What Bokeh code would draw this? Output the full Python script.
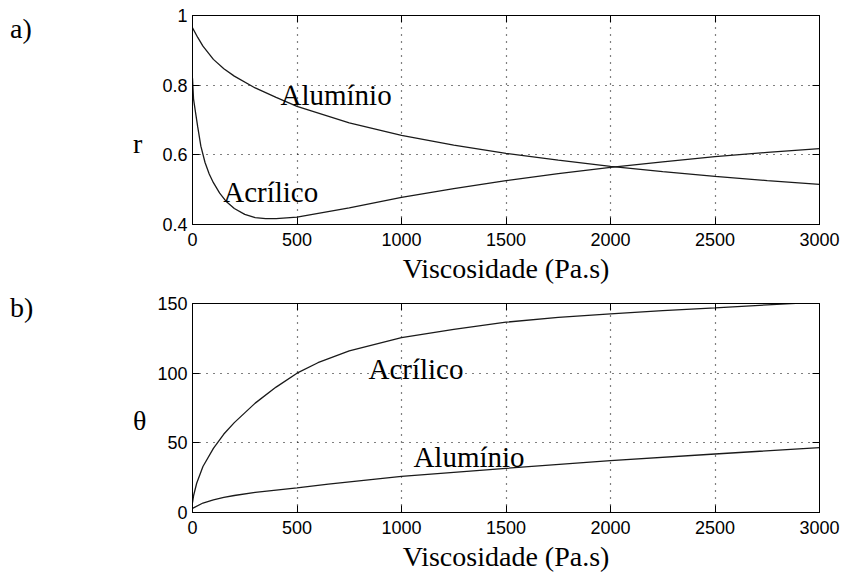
from bokeh.plotting import figure
from bokeh.layouts import column, row
from bokeh.models import (Label, LinearAxis, FixedTicker, Range1d, CustomJSTickFormatter, Grid, Div)
from bokeh.embed import file_html
from bokeh.resources import INLINE

# ---------------- data ----------------
x_ticks = [0, 500, 1000, 1500, 2000, 2500, 3000]
r_ticks = [0.4, 0.6, 0.8, 1.0]
r_tick_labels = ["0.4", "0.6", "0.8", "1"]
t_ticks = [0, 50, 100, 150]

r_alu_x = [0, 25, 50, 100, 150, 200, 300, 400, 500, 750, 1000, 1250, 1500, 1750, 2000, 2250, 2500, 2750, 3000]
r_alu_y = [0.965, 0.937, 0.912, 0.874, 0.847, 0.826, 0.792, 0.765, 0.739, 0.692, 0.656, 0.628, 0.604, 0.585, 0.567, 0.552, 0.538, 0.526, 0.515]

r_acr_x = [0, 5, 15, 25, 40, 60, 80, 100, 130, 160, 200, 250, 300, 350, 400, 500, 750, 1000, 1250, 1500, 1750, 2000, 2250, 2500, 2750, 3000]
r_acr_y = [0.82, 0.76, 0.72, 0.68, 0.625, 0.578, 0.545, 0.52, 0.49, 0.467, 0.446, 0.429, 0.42, 0.417, 0.417, 0.421, 0.448, 0.478, 0.503, 0.526, 0.546, 0.564, 0.58, 0.595, 0.607, 0.618]

t_acr_x = [0, 5, 20, 50, 100, 150, 200, 250, 300, 400, 500, 600, 750, 1000, 1250, 1500, 1750, 2000, 2250, 2500, 2750, 3000]
t_acr_y = [7, 12, 21, 33, 46, 56.3, 64.5, 71.5, 78.5, 90, 100, 107.5, 116, 125.5, 131.5, 136.6, 140, 142.6, 144.9, 146.9, 149, 151]

t_alu_x = [0, 50, 100, 150, 200, 300, 500, 650, 1000, 1500, 2000, 2500, 3000]
t_alu_y = [3, 6.8, 9, 10.8, 12.2, 14.5, 17.6, 20.3, 26, 31.7, 37.2, 42, 46.6]

xlabel = "Viscosidade (Pa.s)"

SERIF = "'Liberation Serif'"
SANS = "'Liberation Sans'"
LINE = "#1a1a1a"


def side_div(tag, tag_top, ylab, ylab_top, h):
    span = ("<span style=\"position:absolute;left:{l}px;top:{t}px;font-size:28px;"
            "line-height:28px;white-space:nowrap;\">{s}</span>")
    html = ("<div style=\"position:relative;width:150px;height:{h}px;"
            "font-family:'Liberation Serif';color:black;\">".format(h=h)
            + span.format(l=10, t=tag_top, s=tag)
            + span.format(l=133, t=ylab_top, s=ylab)
            + "</div>")
    return Div(text=html, width=150, height=h, margin=0)


def make_panel(yr, yticks, ylabels, top_border):
    p = figure(frame_width=627, frame_height=209,
               x_range=Range1d(0, 3000), y_range=Range1d(*yr),
               output_backend="svg", toolbar_location=None,
               min_border_left=42, min_border_right=23,
               min_border_top=top_border, min_border_bottom=40,
               x_axis_type=None, y_axis_type=None, margin=0)
    p.background_fill_color = "white"
    p.border_fill_color = "white"
    p.outline_line_color = "black"
    p.outline_line_width = 1

    xb = LinearAxis(ticker=FixedTicker(ticks=x_ticks))
    yl = LinearAxis(ticker=FixedTicker(ticks=yticks))
    yl.major_label_overrides = {t: s for t, s in zip(yticks, ylabels)}
    xt = LinearAxis(ticker=FixedTicker(ticks=x_ticks),
                    formatter=CustomJSTickFormatter(code="return ''"))
    yrr = LinearAxis(ticker=FixedTicker(ticks=yticks),
                     formatter=CustomJSTickFormatter(code="return ''"))
    for ax in (xb, yl, xt, yrr):
        ax.axis_line_color = "black"
        ax.major_tick_line_color = "black"
        ax.major_tick_in = 7
        ax.major_tick_out = 0
        ax.minor_tick_line_color = None
        ax.major_label_text_font = SANS
        ax.major_label_text_font_size = "18px"
        ax.major_label_text_color = "black"
    for ax in (xt, yrr):
        ax.major_label_standoff = 0
    xb.major_label_standoff = 8
    yl.major_label_standoff = 5
    xb.axis_label = xlabel
    xb.axis_label_text_font = SERIF
    xb.axis_label_text_font_size = "28px"
    xb.axis_label_text_font_style = "normal"
    xb.axis_label_text_color = "black"
    xb.axis_label_standoff = 4

    p.add_layout(xb, "below")
    p.add_layout(yl, "left")
    p.add_layout(xt, "above")
    p.add_layout(yrr, "right")

    gx = Grid(dimension=0, ticker=FixedTicker(ticks=x_ticks[1:-1]),
              grid_line_color="black", grid_line_dash="1 6", grid_line_width=1.2)
    gy = Grid(dimension=1, ticker=FixedTicker(ticks=yticks[1:-1]),
              grid_line_color="black", grid_line_dash="1 6", grid_line_width=1.2)
    p.add_layout(gx)
    p.add_layout(gy)
    return p


def curve_label(p, x, y, text):
    p.add_layout(Label(x=x, y=y, text=text, text_font=SERIF,
                       text_font_size="29px", text_color="black",
                       text_baseline="alphabetic"))


p1 = make_panel((0.4, 1.0), r_ticks, r_tick_labels, 15)
p1.line(r_alu_x, r_alu_y, line_color=LINE, line_width=1.3)
p1.line(r_acr_x, r_acr_y, line_color=LINE, line_width=1.3)
curve_label(p1, 421, 0.772, "Alumínio")
curve_label(p1, 147, 0.493, "Acrílico")

p2 = make_panel((0, 150), t_ticks, [str(t) for t in t_ticks], 17)
p2.line(t_acr_x, t_acr_y, line_color=LINE, line_width=1.3)
p2.line(t_alu_x, t_alu_y, line_color=LINE, line_width=1.3)
curve_label(p2, 842, 102.9, "Acrílico")
curve_label(p2, 1057, 39.8, "Alumínio")

d1 = side_div("a)", 15, "r", 130, 284)
d2 = side_div("b)", 8, "θ", 121, 288)

layout = column(row(d1, p1, spacing=0), row(d2, p2, spacing=0), spacing=0)
open("out.html", "w").write(file_html(layout, INLINE))
